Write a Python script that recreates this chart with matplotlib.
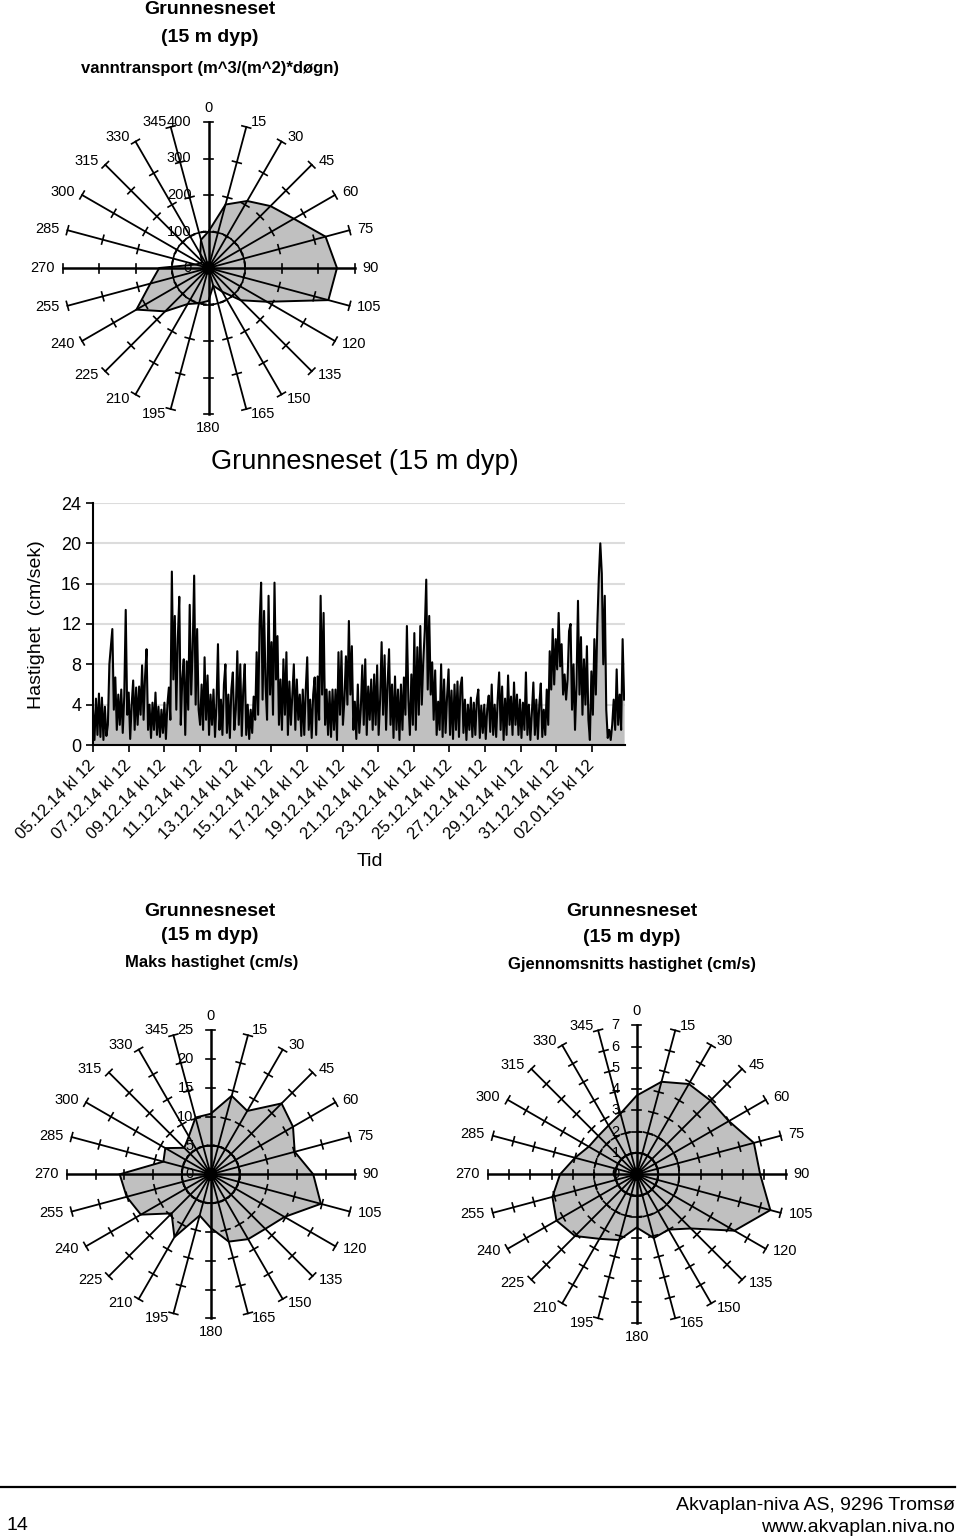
import matplotlib
matplotlib.use('Agg')
import matplotlib.pyplot as plt
import numpy as np
from matplotlib.patches import Circle
from matplotlib.lines import Line2D

plt.rcParams['font.family'] = ['Liberation Sans', 'DejaVu Sans']

# --- data -------------------------------------------------------------
directions = list(range(0, 360, 15))

transport = [100, 180, 212, 240, 270, 332, 352, 340, 185, 125, 75, 50,
             90, 100, 114, 168, 228, 165, 135, 37, 25, 25, 45, 80]

max_speed = [10.5, 14.1, 12.7, 17.4, 16.5, 15.1, 17.8, 19.8, 14.8, 13.4, 13.0, 12.1,
             9.3, 7.4, 12.6, 9.6, 14.0, 15.1, 15.8, 8.5, 9.1, 6.5, 7.6, 10.2]

mean_speed = [3.7, 4.5, 4.9, 4.9, 5.0, 5.7, 5.8, 6.5, 5.3, 3.6, 3.0, 3.1,
              2.5, 3.2, 3.5, 4.1, 4.35, 4.1, 3.6, 3.0, 2.6, 2.55, 2.65, 2.95]

date_labels = ['05.12.14 kl 12', '07.12.14 kl 12', '09.12.14 kl 12', '11.12.14 kl 12',
               '13.12.14 kl 12', '15.12.14 kl 12', '17.12.14 kl 12', '19.12.14 kl 12',
               '21.12.14 kl 12', '23.12.14 kl 12', '25.12.14 kl 12', '27.12.14 kl 12',
               '29.12.14 kl 12', '31.12.14 kl 12', '02.01.15 kl 12']
span_days = 29.8   # 05.12.14 12:00 -> ~04.01.15

speed = [
    3.5, 0.5, 4.6, 1.0, 5.1, 0.8, 4.7, 0.5, 3.8, 0.9, 2.0, 8.0, 9.8, 11.5, 3.5, 6.7,
    1.5, 5.0, 2.0, 5.5, 1.2, 4.8, 13.4, 3.0, 5.2, 0.6, 4.0, 6.4, 1.5, 5.7, 2.0, 5.8,
    3.0, 7.9, 2.5, 6.8, 9.5, 1.5, 4.0, 0.7, 4.2, 1.5, 5.2, 1.0, 3.8, 0.8, 3.5, 1.2,
    4.2, 0.6, 4.0, 5.7, 2.5, 17.2, 6.5, 12.8, 3.5, 10.5, 14.7, 2.0, 6.5, 8.5, 1.0, 8.3,
    3.5, 13.9, 5.0, 9.5, 16.8, 4.0, 11.5, 3.5,
    2.0, 6.0, 1.5, 8.7, 2.5, 6.9, 1.0, 5.0, 2.0, 5.5, 0.8, 4.0, 10.0, 1.5, 4.5, 1.0,
    6.0, 8.0, 1.2, 5.0, 0.7, 5.5, 7.2, 1.5, 3.5, 9.3, 2.0, 8.0, 0.9, 5.5, 8.0, 1.0,
    4.0, 0.6, 3.5, 1.2, 4.8, 2.5, 9.2, 3.0, 12.0, 16.1, 4.5, 13.3, 6.0, 2.5, 14.8, 5.0,
    10.2, 3.0, 16.1, 6.5, 10.8, 2.0, 6.5, 1.5, 8.5, 3.0, 9.2, 1.0, 6.3, 2.0, 5.0, 8.0,
    1.5, 6.5, 2.5, 5.0, 0.9, 5.5,
    1.0, 5.5, 8.7, 1.5, 4.5, 0.7, 5.0, 6.7, 1.0, 6.8, 2.5, 14.8, 5.0, 13.1, 2.0, 5.5,
    1.0, 5.3, 0.8, 5.5, 1.5, 5.5, 0.5, 9.2, 3.0, 9.3, 2.0, 4.5, 8.8, 4.0, 12.3, 5.0,
    9.8, 1.5, 4.3, 0.6, 6.0, 1.2, 3.5, 7.9, 2.0, 8.5, 1.0, 5.8, 2.5, 6.5, 1.5, 7.0,
    2.0, 7.9, 1.0, 4.5, 10.2, 3.0, 8.9, 1.5, 6.0, 9.5, 2.0, 6.0, 0.7, 6.8, 1.5, 5.5,
    0.5, 6.0, 1.5, 6.7, 3.0, 11.8, 4.5,
    1.0, 7.0, 2.0, 11.1, 1.5, 9.7, 3.0, 11.8, 4.0, 8.3, 11.3, 16.4, 5.5, 12.8, 5.0, 8.2,
    2.5, 7.4, 1.0, 4.3, 1.5, 8.0, 0.8, 6.5, 1.2, 4.8, 7.5, 1.0, 5.4, 0.6, 6.0, 1.5,
    6.3, 0.8, 5.8, 6.7, 1.2, 4.5, 0.5, 4.0, 1.5, 4.7, 0.8, 4.2, 1.0, 4.5, 5.5, 0.7,
    3.9, 1.2, 4.0, 0.6, 3.6, 4.9, 1.3, 6.0, 1.0, 4.0, 0.8, 4.5, 7.2, 1.5, 5.8, 0.5,
    4.6, 1.0, 6.9, 2.0, 4.8, 1.0, 6.2,
    2.0, 5.0, 1.0, 4.5, 0.7, 4.2, 1.5, 7.2, 1.0, 4.0, 0.5, 3.2, 6.2, 1.0, 4.5, 0.6,
    4.0, 6.1, 0.8, 3.5, 1.0, 5.5, 2.0, 9.3, 5.5, 11.5, 6.0, 10.5, 7.5, 13.1, 7.8, 10.0,
    5.0, 7.0, 4.5, 6.5, 11.3, 12.0, 3.5, 8.0, 1.5, 6.0, 14.3, 5.0, 10.7, 3.0, 8.5, 4.0,
    9.8, 2.5, 0.5, 7.3, 3.0, 10.5, 5.0, 12.0, 16.6, 20.0, 17.0, 8.0, 14.8, 3.5, 0.7, 1.5,
    0.5, 2.0, 4.5, 1.5, 7.5, 2.0, 5.0, 1.5, 10.5, 4.5,
]

FILL = '#c0c0c0'
DASH = (0, (3, 3))
W, H = 960, 1538
fig = plt.figure(figsize=(W / 100, H / 100), dpi=100)


def text(x, y, s, size, bold=False, **kw):
    kw.setdefault('ha', 'center')
    fig.text(x / W, 1 - y / H, s, va='center', fontsize=size,
             fontweight='bold' if bold else 'normal', **kw)


def radar(cx, cy, rpx, rmax, step, vals, circles):
    ax = fig.add_axes([(cx - rpx) / W, 1 - (cy + rpx) / H, 2 * rpx / W, 2 * rpx / H])
    ax.set_xlim(-rmax, rmax)
    ax.set_ylim(-rmax, rmax)
    ax.axis('off')
    u = rmax / rpx
    th = np.deg2rad(directions)
    v = np.asarray(vals)
    ax.fill(v * np.sin(th), v * np.cos(th), facecolor=FILL, edgecolor='black',
            lw=1.4, zorder=1)
    for r, ls in circles:
        ax.add_patch(Circle((0, 0), r, fill=False, ec='black', lw=1.4, ls=ls, zorder=2))
    h = 4.5 * u
    for a, t in zip(directions, th):
        s, c = np.sin(t), np.cos(t)
        ax.plot([0, rmax * s], [0, rmax * c], color='black',
                lw=1.8 if a % 90 == 0 else 1.3, zorder=3, clip_on=False)
        for k in np.arange(step, rmax + step / 2, step):
            ax.plot([k * s - h * c, k * s + h * c], [k * c + h * s, k * c - h * s],
                    color='black', lw=1.2, zorder=3, clip_on=False)
        if a == 0:
            off, ha = (0, 14), 'center'
        elif a == 180:
            off, ha = (0, -14), 'center'
        else:
            sg = 1 if s > 0 else -1
            off = (sg * (3 + 5 * abs(s)), 5 * c)
            ha = 'left' if s > 0 else 'right'
        ax.annotate(str(a), (rmax * s, rmax * c), xytext=off, textcoords='offset pixels',
                    ha=ha, va='center', fontsize=10.5, zorder=4, annotation_clip=False)
    for k in np.arange(0, rmax + step / 2, step):
        ax.annotate(f'{k:g}', (0, k), xytext=(-17, 0), textcoords='offset pixels',
                    ha='right', va='center', fontsize=10.5, zorder=2.5,
                    annotation_clip=False)
    ax.add_patch(Circle((0, 0), 6 * u, color='black', zorder=3.5))
    return ax


# --- top radar: water transport ---------------------------------------
text(210, 10, 'Grunnesneset', 14, bold=True)
text(210, 38, '(15 m dyp)', 14, bold=True)
text(210, 68, 'vanntransport (m^3/(m^2)*døgn)', 12, bold=True)
radar(208.5, 268, 146, 400, 100, transport, [(100, DASH)])

# --- time series ------------------------------------------------------
text(365, 462, 'Grunnesneset (15 m dyp)', 19.5)
ax = fig.add_axes([93 / W, 1 - 745 / H, (625 - 93) / W, (745 - 503) / H])
t = np.linspace(0, span_days, len(speed))
ax.fill_between(t, speed, color=FILL, lw=0)
ax.plot(t, speed, color='black', lw=1.5)
ax.set_xlim(0, span_days + 0.05)
ax.set_ylim(0, 24)
ax.set_yticks(range(0, 25, 4))
ax.grid(axis='y', color='#dcdcdc', lw=1.5)
ax.set_axisbelow(True)
ax.set_xticks(np.arange(0, 29, 2))
ax.set_xticklabels(date_labels, rotation=45, ha='right', va='center',
                   rotation_mode='anchor', fontsize=12)
ax.tick_params(axis='y', labelsize=13, length=5, width=1.2)
ax.tick_params(axis='x', length=5, width=1.2, pad=8)
for side in ('top', 'right'):
    ax.spines[side].set_visible(False)
for side in ('left', 'bottom'):
    ax.spines[side].set_linewidth(1.5)
text(37, 625, 'Hastighet  (cm/sek)', 14, rotation=90)
text(370, 862, 'Tid', 14)

# --- bottom radars ----------------------------------------------------
text(210, 911, 'Grunnesneset', 14, bold=True)
text(210, 936, '(15 m dyp)', 14, bold=True)
text(212, 962, 'Maks hastighet (cm/s)', 12, bold=True)
radar(210.7, 1174.3, 144, 25, 5, max_speed, [(5, '-')])

text(632, 911, 'Grunnesneset', 14, bold=True)
text(632, 938, '(15 m dyp)', 14, bold=True)
text(632, 965, 'Gjennomsnitts hastighet (cm/s)', 12, bold=True)
radar(636.7, 1174.3, 149, 7, 1, mean_speed, [(1, '-'), (2, DASH)])

# --- footer -----------------------------------------------------------
fig.add_artist(Line2D([0, 955 / W], [1 - 1487 / H] * 2, color='black', lw=1.6))
text(6, 1525, '14', 14, ha='left')
text(955, 1505, 'Akvaplan-niva AS, 9296 Tromsø', 14, ha='right')
text(955, 1527, 'www.akvaplan.niva.no', 14, ha='right')

fig.savefig('out.png', dpi=100)
